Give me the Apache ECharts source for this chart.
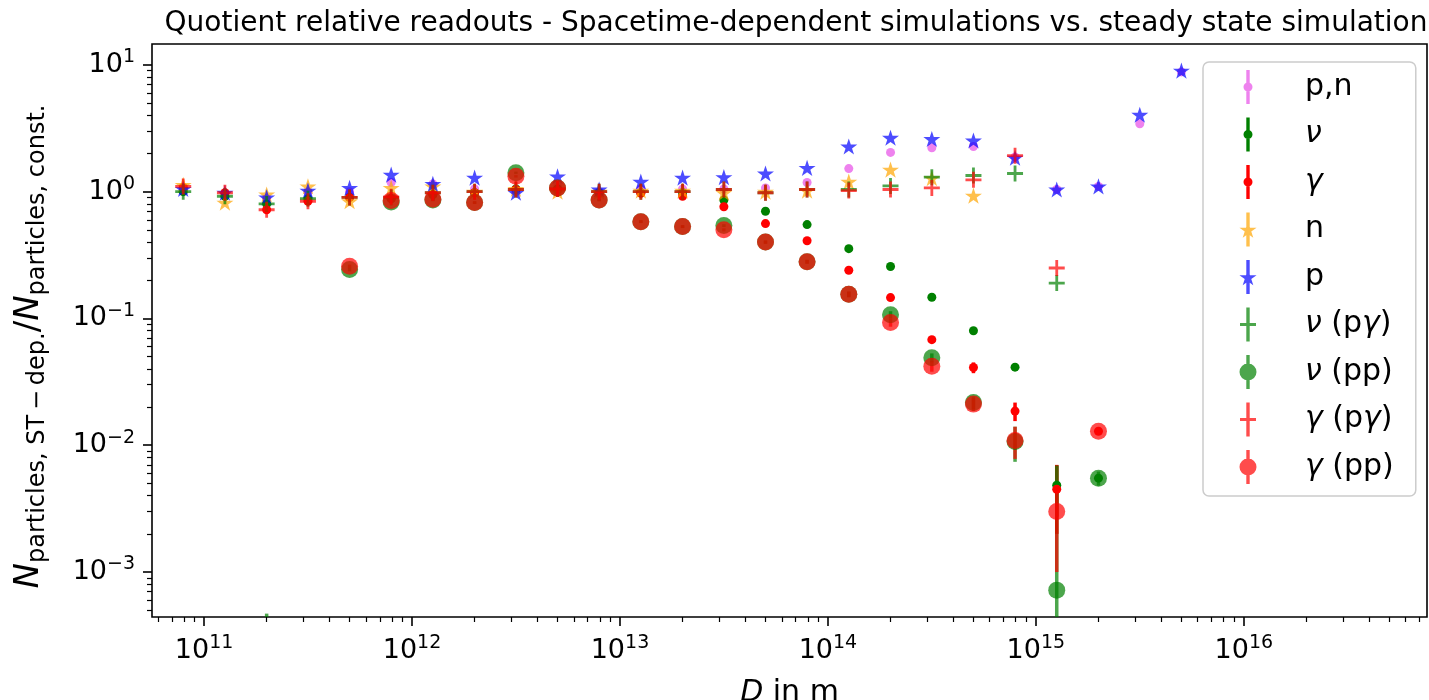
<!DOCTYPE html>
<html>
<head>
<meta charset="utf-8">
<script src="https://cdn.jsdelivr.net/npm/echarts@6/dist/echarts.min.js"></script>
<style>
  html, body { margin: 0; background: #fff; }
  #chart { width: 1429px; height: 700px; }
</style>
</head>
<body>
<div id="chart"></div>
<script>
// distance grid, D = 10^(10.9 + 0.2 k) m
const D = [7.94e10, 1.26e11, 2.00e11, 3.16e11, 5.01e11, 7.94e11, 1.26e12, 2.00e12, 3.16e12, 5.01e12,
  7.94e12, 1.26e13, 2.00e13, 3.16e13, 5.01e13, 7.94e13, 1.26e14, 2.00e14, 3.16e14, 5.01e14,
  7.94e14, 1.26e15, 2.00e15, 3.16e15, 5.01e15];

// quotients N(ST-dep.) / N(const.)
const pn = [1.05, 0.97, 0.88, 1.00, 1.00, 1.18, 1.15, 1.05, 1.00, 1.10, 1.00, 1.05, 1.05, 1.05, 1.07, 1.18,
  1.52, 2.04, 2.22, 2.27, 1.88, 1.04, 1.10, 3.43, 8.8];
const nu = [1.00, 0.92, 0.80, 0.88, 0.90, 0.88, 0.95, 0.98, 1.05, 1.05, 0.98, 0.98, 0.98, 0.86, 0.70, 0.55,
  0.355, 0.257, 0.147, 0.080, 0.0413, 0.00484, 0.0055, null, null];
const gamma = [1.08, 0.98, 0.72, 0.84, 0.90, 0.88, 0.95, 0.98, 1.04, 1.03, 0.97, 0.97, 0.92, 0.76, 0.56, 0.41,
  0.24, 0.146, 0.068, 0.041, 0.0186, 0.0045, 0.0129, null, null];
const n = [1.13, 0.82, 0.95, 1.10, 0.84, 1.07, 1.10, 1.00, 1.05, 1.00, 1.00, 1.02, 1.02, 0.98, 1.00, 1.02,
  1.20, 1.49, 1.28, 0.93, null, null, null, null, null];
const p = [1.05, 0.98, 0.90, 1.02, 1.07, 1.36, 1.15, 1.29, 0.98, 1.32, 1.04, 1.20, 1.29, 1.30, 1.39, 1.54,
  2.27, 2.66, 2.60, 2.53, 1.85, 1.04, 1.10, 4.04, 9.0];
const nuPg = [1.00, 0.92, 0.80, 0.88, 0.90, 0.90, 0.98, 1.00, 1.04, 1.05, 1.00, 1.00, 1.00, 1.04, 0.98, 1.04,
  1.04, 1.11, 1.30, 1.34, 1.39, 0.19, null, null, null];
const nuPp = [null, null, 3.5e-4, null, 0.243, 0.83, 0.86, 0.82, 1.41, 1.07, 0.86, 0.58, 0.53, 0.54, 0.40, 0.28,
  0.155, 0.107, 0.049, 0.0217, 0.0107, 0.00072, 0.0055, null, null];
const gammaPg = [1.10, 0.98, 0.72, 0.84, 0.90, 0.91, 0.98, 1.00, 1.04, 1.05, 1.00, 1.00, 1.00, 1.04, 0.98, 1.04,
  1.02, 1.04, 1.07, 1.24, 1.92, 0.25, null, null, null];
const gammaPp = [null, null, null, null, 0.258, 0.85, 0.87, 0.82, 1.32, 1.07, 0.86, 0.58, 0.53, 0.50, 0.40, 0.28,
  0.155, 0.093, 0.042, 0.0211, 0.0109, 0.0030, 0.0129, null, null];

// error bars (null = too small to see)
const nuErr = [null, null, null, null, null, null, null, null, null, null, null, null, null, null, null, null,
  null, null, null, null, 0.002, 0.0021, null, null, null];
const gammaErr = [null, null, null, null, null, null, null, null, null, null, null, null, null, null, null, null,
  null, null, null, 0.004, 0.0031, 0.0025, null, null, null];
const nuPpErr = [null, null, 1.2e-4, null, 0.008, 0.02, 0.02, 0.02, 0.03, 0.025, 0.02, 0.015, 0.014, 0.014, 0.012, 0.01,
  0.008, 0.007, 0.004, 0.0025, 0.0033, 0.0062, 0.0007, null, null];
const gammaPpErr = [null, null, null, null, 0.008, 0.02, 0.02, 0.02, 0.03, 0.025, 0.02, 0.015, 0.014, 0.014, 0.012, 0.01,
  0.008, 0.007, 0.004, 0.0025, 0.0031, 0.002, 0.0007, null, null];

const xMajor = [1e11, 1e12, 1e13, 1e14, 1e15, 1e16];
const yMajor = [1e-3, 1e-2, 1e-1, 1e0, 1e1];
const minorSteps = [2, 3, 4, 5, 6, 7, 8, 9];
const xMin = 5.62e10, xMax = 7.6e16, yMin = 4.42e-4, yMax = 14.6;

const FONT = 'DejaVu Sans';

function minorTicks(lo, hi) {
  const out = [];
  for (let e = Math.floor(Math.log10(lo)); e <= Math.ceil(Math.log10(hi)); e++) {
    minorSteps.forEach(m => {
      const v = m * Math.pow(10, e);
      if (v > lo && v < hi) out.push(v);
    });
  }
  return out;
}

// marker shapes
function starPts(cx, cy, R) {
  const r = R * 0.382;
  let d = '';
  for (let i = 0; i < 10; i++) {
    const a = -Math.PI / 2 + i * Math.PI / 5;
    const rad = i % 2 ? r : R;
    d += (i ? 'L' : 'M') + (cx + rad * Math.cos(a)).toFixed(2) + ' ' + (cy + rad * Math.sin(a)).toFixed(2) + ' ';
  }
  return d + 'Z ';
}
const STAR = 'path://' + starPts(10, 10, 10);
const PLUS = 'path://M6.6 0 L9.4 0 L9.4 6.6 L16 6.6 L16 9.4 L9.4 9.4 L9.4 16 L6.6 16 L6.6 9.4 L0 9.4 L0 6.6 L6.6 6.6 Z';

// legend icons: vertical error bar + marker, padded to a 62x34 box
const PAD = 'M0 0 L0.01 0 L0 0.01 Z M62 34 L61.99 34 L62 33.99 Z ';
const BAR = 'M8.3 0 L11.7 0 L11.7 34 L8.3 34 Z ';
const circ = r => `M${10 + r} 17 A${r} ${r} 0 1 1 ${10 - r} 17 A${r} ${r} 0 1 1 ${10 + r} 17 Z `;
const icons = {
  dot: 'path://' + PAD + BAR + circ(4.5),
  big: 'path://' + PAD + BAR + circ(8.5),
  star: 'path://' + PAD + BAR + starPts(10, 18, 9),
  plus: 'path://' + PAD + BAR + 'M2 15.6 L18 15.6 L18 18.4 L2 18.4 Z '
};

const series = [];
const legendData = [];

function addSeries(name, vals, errs, color, opacity, kind) {
  if (errs) {
    series.push({
      type: 'custom',
      name: name + ' err',
      clip: true,
      encode: { x: 0, y: 1 },
      data: D.map((d, i) => (vals[i] != null && errs[i] != null) ? [d, vals[i], errs[i]] : null).filter(Boolean),
      renderItem: (params, api) => {
        const x = api.value(0), y = api.value(1), e = api.value(2);
        const lo = y - e > 0 ? y - e : yMin / 10;
        const a = api.coord([x, y + e]);
        const b = api.coord([x, lo]);
        return {
          type: 'line',
          shape: { x1: a[0], y1: a[1], x2: b[0], y2: b[1] },
          style: { stroke: color, lineWidth: 3.5, opacity: opacity }
        };
      }
    });
  }
  const sym = { dot: ['circle', 9], big: ['circle', 17], star: [STAR, 17], plus: [PLUS, 16] }[kind];
  series.push({
    type: 'scatter',
    name: name,
    data: D.map((d, i) => vals[i] != null ? [d, vals[i]] : null).filter(Boolean),
    symbol: sym[0],
    symbolSize: sym[1],
    symbolKeepAspect: true,
    itemStyle: { color: color, opacity: opacity },
    emphasis: { disabled: true }
  });
  legendData.push({ name: name, icon: icons[kind] });
}

addSeries('p,n', pn, null, '#ee82ee', 1, 'dot');
addSeries('ν', nu, nuErr, '#008000', 1, 'dot');
addSeries('γ', gamma, gammaErr, '#ff0000', 1, 'dot');
addSeries('n', n, null, '#ffa500', 0.7, 'star');
addSeries('p', p, null, '#0000ff', 0.7, 'star');
addSeries('ν (pγ)', nuPg, null, '#008000', 0.7, 'plus');
addSeries('ν (pp)', nuPp, nuPpErr, '#008000', 0.7, 'big');
addSeries('γ (pγ)', gammaPg, null, '#ff0000', 0.7, 'plus');
addSeries('γ (pp)', gammaPp, gammaPpErr, '#ff0000', 0.7, 'big');

const powLabel = v => {
  const e = Math.round(Math.log10(v));
  return '{b|10}{s|' + String(e).replace('-', '\u2212') + '}';
};
const powRich = {
  b: { fontFamily: FONT, fontSize: 27, lineHeight: 34, color: '#000' },
  s: { fontFamily: FONT, fontSize: 19, lineHeight: 19, verticalAlign: 'top', color: '#000' }
};

const chart = echarts.init(document.getElementById('chart'), null, { renderer: 'canvas' });
chart.setOption({
  animation: false,
  backgroundColor: '#fff',
  title: {
    text: 'Quotient relative readouts - Spacetime-dependent simulations vs. steady state simulation',
    left: 791,
    textAlign: 'center',
    top: 5,
    textStyle: { fontFamily: FONT, fontSize: 28, fontWeight: 'normal', color: '#000' }
  },
  grid: {
    left: 152, right: 2, top: 44, bottom: 83,
    outerBoundsMode: 'none',
    show: true, borderColor: '#000', borderWidth: 1.6, backgroundColor: 'transparent'
  },
  legend: {
    orient: 'vertical',
    left: 1203,
    top: 62,
    padding: [8, 22, 12, 35],
    itemWidth: 62,
    itemHeight: 34,
    itemGap: 13.5,
    backgroundColor: '#fff',
    borderColor: '#cccccc',
    borderWidth: 1.5,
    borderRadius: 6,
    data: legendData,
    formatter: name => name.replace(/([νγ])/g, '{i|$1}'),
    textStyle: {
      fontFamily: FONT, fontSize: 30, lineHeight: 34, color: '#000',
      rich: { i: { fontFamily: FONT, fontSize: 30, fontStyle: 'italic', color: '#000' } }
    }
  },
  xAxis: [{
    type: 'log', min: xMin, max: xMax,
    name: '{i|D}{r| in m}',
    nameLocation: 'middle',
    nameGap: 61,
    nameTextStyle: {
      rich: {
        i: { fontFamily: FONT, fontSize: 30, fontStyle: 'italic', color: '#000' },
        r: { fontFamily: FONT, fontSize: 30, color: '#000' }
      }
    },
    axisLine: { show: false },
    axisTick: { customValues: xMajor, length: 9, lineStyle: { color: '#000', width: 1.6 } },
    axisLabel: { customValues: xMajor, margin: 17, formatter: powLabel, rich: powRich },
    splitLine: { show: false }
  }, {
    type: 'log', min: xMin, max: xMax, position: 'bottom', gridIndex: 0,
    axisLine: { show: false },
    axisTick: { customValues: minorTicks(xMin, xMax), length: 5, lineStyle: { color: '#000', width: 1.2 } },
    axisLabel: { show: false },
    splitLine: { show: false }
  }],
  yAxis: [{
    type: 'log', min: yMin, max: yMax,
    name: '{n|N}{sub|particles, ST\u2009\u2212\u2009dep.}{r|/}{n|N}{sub|particles, const.}',
    nameLocation: 'middle',
    nameRotate: 90,
    nameGap: 102,
    nameTextStyle: {
      padding: [0, 32, 0, 0],
      rich: {
        n: { fontFamily: FONT, fontSize: 34, fontStyle: 'italic', lineHeight: 42, color: '#000' },
        r: { fontFamily: FONT, fontSize: 34, lineHeight: 42, color: '#000' },
        sub: { fontFamily: FONT, fontSize: 24, lineHeight: 24, verticalAlign: 'bottom', color: '#000' }
      }
    },
    axisLine: { show: false },
    axisTick: { customValues: yMajor, length: 9, lineStyle: { color: '#000', width: 1.6 } },
    axisLabel: { customValues: yMajor, margin: 17, formatter: powLabel, rich: powRich },
    splitLine: { show: false }
  }, {
    type: 'log', min: yMin, max: yMax, position: 'left', gridIndex: 0,
    axisLine: { show: false },
    axisTick: { customValues: minorTicks(yMin, yMax), length: 5, lineStyle: { color: '#000', width: 1.2 } },
    axisLabel: { show: false },
    splitLine: { show: false }
  }],
  series: series
});
</script>
</body>
</html>
